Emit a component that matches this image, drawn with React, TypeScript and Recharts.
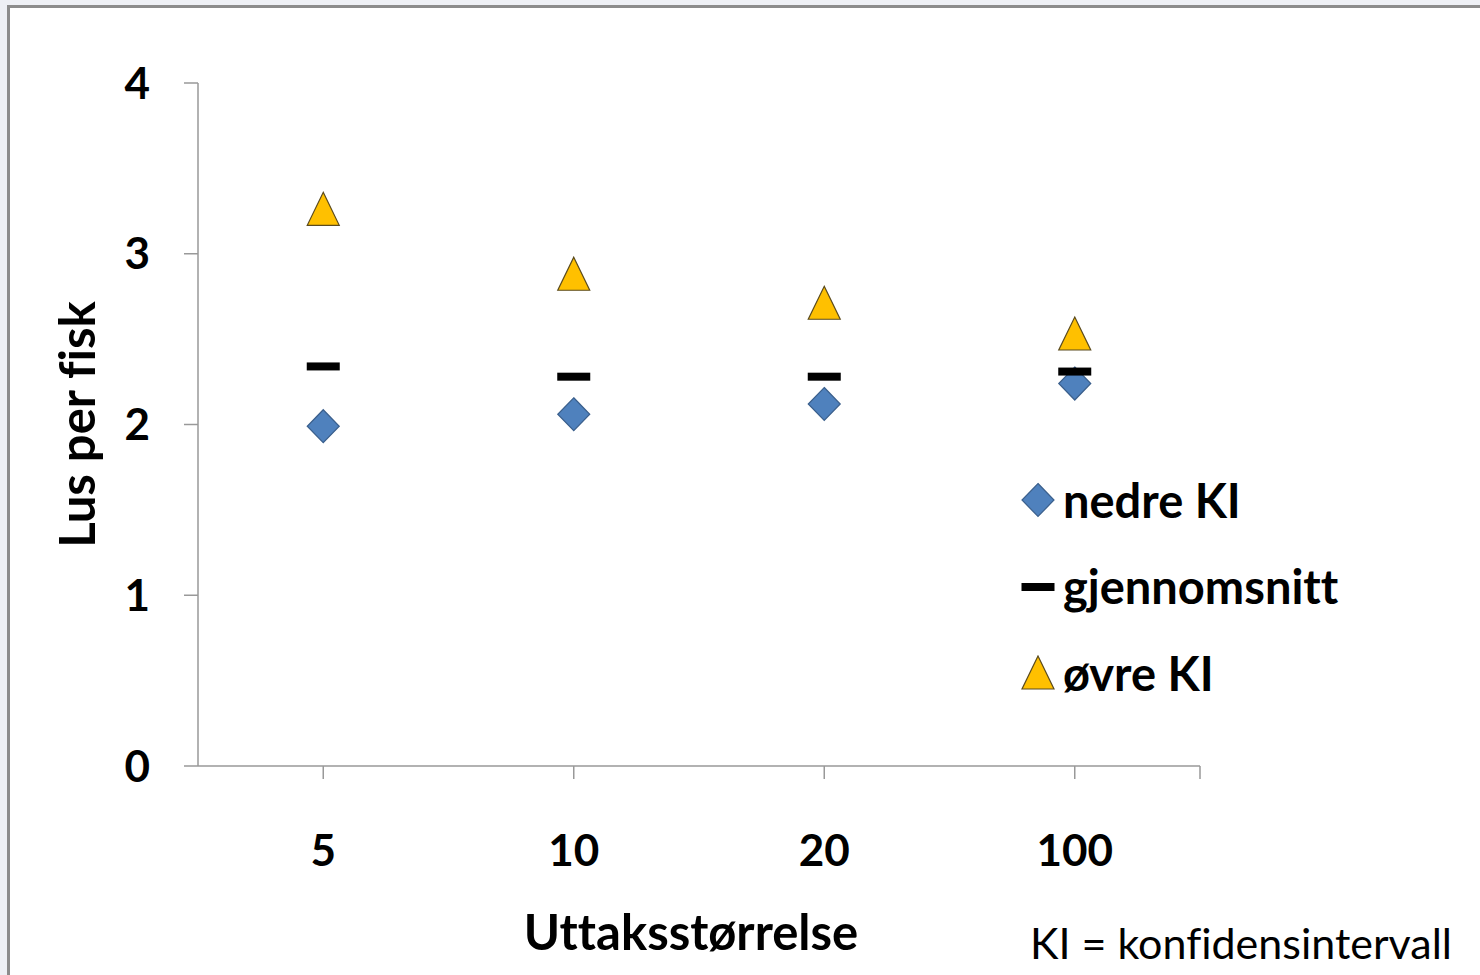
import { ScatterChart, Scatter, XAxis, YAxis, Legend, Label } from "recharts";

const categories = ["5", "10", "20", "100"];
const nedreKI = [1.99, 2.06, 2.12, 2.24];
const gjennomsnitt = [2.34, 2.28, 2.28, 2.31];
const ovreKI = [3.26, 2.88, 2.71, 2.53];
const yTicks = [0, 1, 2, 3, 4];

const FONT = "Lato, 'Open Sans', sans-serif";

const toPoints = (vals: number[]) => vals.map((y, i) => ({ x: i + 1, y }));

const Diamond = ({ cx, cy }: any) => (
  <path
    d={`M${cx},${cy - 16.5} L${cx + 16},${cy} L${cx},${cy + 16.5} L${cx - 16},${cy} Z`}
    fill="#4f81bd"
    stroke="#3a5f8c"
    strokeWidth={1.2}
  />
);

const Triangle = ({ cx, cy }: any) => (
  <path
    d={`M${cx},${cy - 17} L${cx + 16},${cy + 16} L${cx - 16},${cy + 16} Z`}
    fill="#ffc000"
    stroke="#5b4b1e"
    strokeWidth={1.2}
  />
);

const Dash = ({ cx, cy }: any) => (
  <rect x={cx - 16.5} y={cy - 4} width={33} height={8} fill="#000" />
);

const legendItems = [
  { label: "nedre KI", icon: <Diamond cx={18} cy={18} /> },
  { label: "gjennomsnitt", icon: <Dash cx={18} cy={18} /> },
  { label: "øvre KI", icon: <Triangle cx={18} cy={18} /> },
];

const renderLegend = () => (
  <div
    style={{
      fontFamily: FONT,
      fontWeight: 700,
      fontSize: 47,
      color: "#000",
      width: 400,
      fontVariantLigatures: "none",
    }}
  >
    {legendItems.map((it) => (
      <div key={it.label} style={{ display: "flex", alignItems: "center", height: 86.5 }}>
        <svg width={36} height={36} style={{ marginRight: 7, flex: "none" }}>
          {it.icon}
        </svg>
        <span style={{ lineHeight: 1, whiteSpace: "nowrap" }}>{it.label}</span>
      </div>
    ))}
  </div>
);

export default function App() {
  const tickStyle = { fill: "#000", fontSize: 44, fontWeight: 700, fontFamily: FONT };
  const titleStyle = {
    fill: "#000",
    fontSize: 49,
    fontWeight: 700,
    fontFamily: FONT,
    fontVariantLigatures: "none",
  };
  return (
    <div
      style={{
        position: "fixed",
        left: 0,
        top: 0,
        width: 1480,
        height: 975,
        background: "#eef0f5",
        overflow: "hidden",
      }}
    >
      <div
        style={{
          position: "absolute",
          left: 7,
          top: 5,
          width: 1490,
          height: 990,
          background: "#fff",
          border: "3px solid #8c8c8c",
        }}
      />
      <div style={{ position: "absolute", left: 0, top: 0 }}>
        <ScatterChart
          width={1480}
          height={975}
          margin={{ top: 83, right: 280, bottom: 109, left: 0 }}
        >
          <XAxis
            type="number"
            dataKey="x"
            domain={[0.5, 4.5]}
            ticks={[1, 2, 3, 4, 4.5]}
            tickFormatter={(v: number) => categories[v - 1] ?? ""}
            interval={0}
            height={100}
            stroke="#999"
            strokeWidth={1.5}
            tickSize={13}
            tickMargin={56}
            tick={tickStyle}
          >
            <Label
              value="Uttaksstørrelse"
              position="bottom"
              offset={49}
              dx={-8}
              fontWeight={700}
              style={titleStyle}
            />
          </XAxis>
          <YAxis
            type="number"
            dataKey="y"
            domain={[0, 4]}
            ticks={yTicks}
            interval={0}
            width={198}
            stroke="#999"
            strokeWidth={1.5}
            tickSize={14}
            tickMargin={34}
            tick={tickStyle}
          >
            <Label
              value="Lus per fisk"
              position="center"
              angle={-90}
              dx={-21}
              fontWeight={700}
              style={{ ...titleStyle, textAnchor: "middle" }}
            />
          </YAxis>
          <Legend
            content={renderLegend}
            layout="vertical"
            align="right"
            verticalAlign="top"
            wrapperStyle={{
              position: "absolute",
              left: 1020,
              top: 457,
              width: 0,
              height: 0,
              overflow: "visible",
            }}
          />
          <Scatter name="nedre KI" data={toPoints(nedreKI)} shape={Diamond} isAnimationActive={false} />
          <Scatter name="gjennomsnitt" data={toPoints(gjennomsnitt)} shape={Dash} isAnimationActive={false} />
          <Scatter name="øvre KI" data={toPoints(ovreKI)} shape={Triangle} isAnimationActive={false} />
        </ScatterChart>
      </div>
      <div
        style={{
          position: "absolute",
          left: 1030,
          top: 921,
          fontFamily: FONT,
          fontSize: 43,
          color: "#000",
          whiteSpace: "nowrap",
          lineHeight: 1,
          fontVariantLigatures: "none",
        }}
      >
        KI = konfidensintervall
      </div>
    </div>
  );
}
